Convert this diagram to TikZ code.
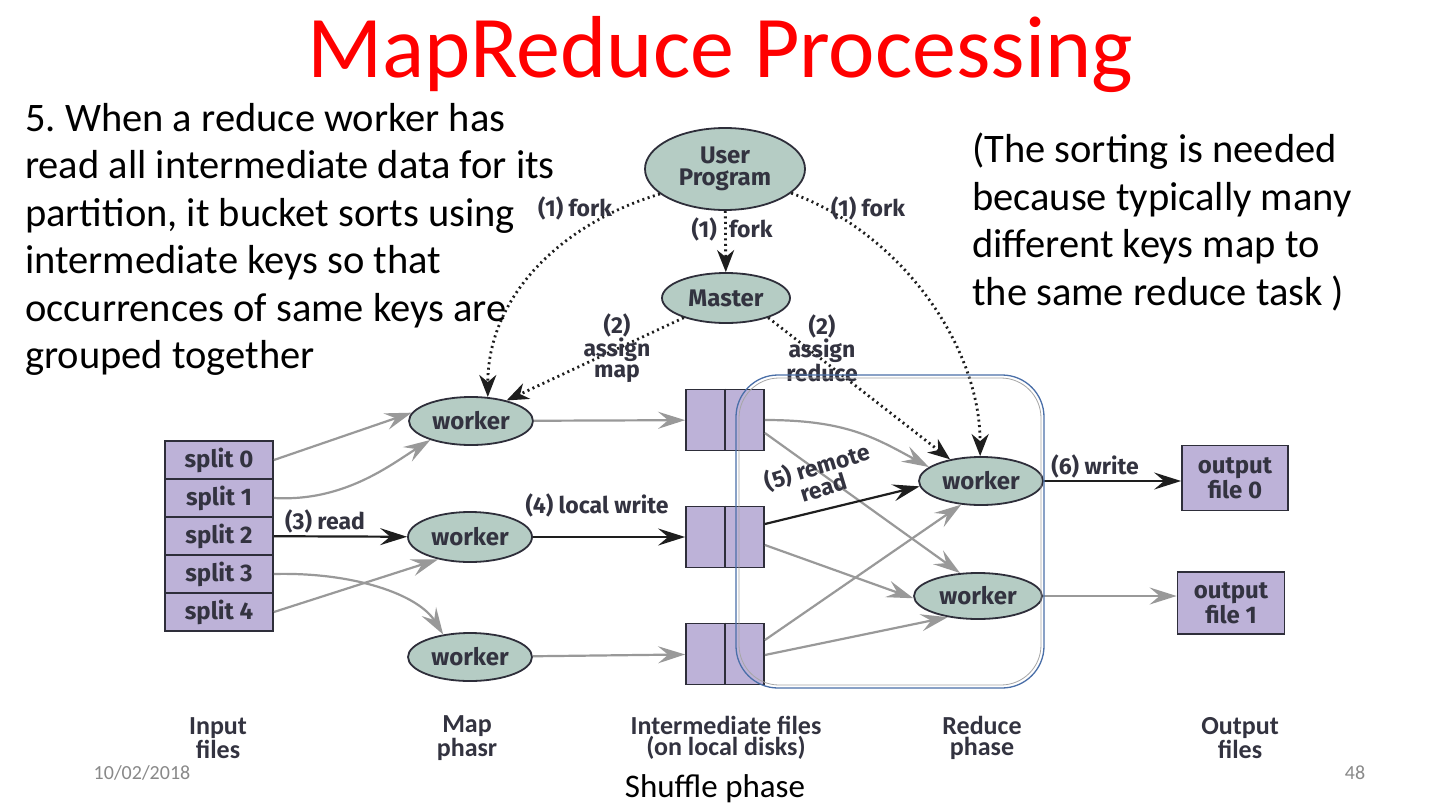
\documentclass[tikz,border=0pt]{standalone}
\usepackage{fontspec}
\setmainfont{Carlito}
\newfontfamily\diagfont{Fira Sans}
\usetikzlibrary{arrows.meta,positioning,shapes.geometric}

\definecolor{taskgreen}{HTML}{B5CCC4}
\definecolor{filepurple}{HTML}{BDB2D8}
\definecolor{edgedark}{HTML}{2E2E3A}
\definecolor{labeldark}{HTML}{333340}
\definecolor{flowgray}{HTML}{999999}
\definecolor{flowblack}{HTML}{1E1E1E}
\definecolor{frameblue}{HTML}{4A6FA8}
\definecolor{footgray}{HTML}{898989}

\frenchspacing
\begin{document}
\begin{tikzpicture}[x=1pt, y=-1pt,
        font=\diagfont\bfseries\fontsize{24}{22}\selectfont,
        % boxes and workers
        task/.style={
            ellipse,
            draw=edgedark,
            fill=taskgreen,
            line width=1.8pt,
            inner sep=0pt,
            text=labeldark,
            align=center
        },
        filebox/.style={
            rectangle,
            draw=edgedark,
            fill=filepurple,
            line width=1.8pt,
            inner sep=0pt,
            text=labeldark,
            align=center
        },
        % connectors
        flow/.style={
            draw=flowgray,
            line width=2.2pt,
            -{Stealth[length=27pt, width=17pt, inset=10pt]}
        },
        mainflow/.style={flow, draw=flowblack},
        ctrl/.style={
            draw=flowblack,
            line width=2.8pt,
            dash pattern=on 2pt off 3.5pt,
            -{Stealth[length=22pt, width=17pt, inset=7pt]}
        },
        steplabel/.style={
            text=labeldark,
            align=center,
            inner sep=0pt,
            font=\diagfont\bfseries\fontsize{23}{21}\selectfont
        },
        collabel/.style={
            text=labeldark,
            align=center,
            inner sep=0pt,
            font=\rmfamily\bfseries\fontsize{26}{21}\selectfont
        },
        note/.style={
            anchor=north west,
            align=left,
            inner sep=0pt,
            font=\rmfamily\mdseries\fontsize{40.5}{47.5}\selectfont
        }
    ]
    \useasboundingbox[fill=white] (0,0) rectangle (1440,811);

    % --- TITLE AND NOTES ---
    \node[anchor=base, text=red, inner sep=0pt,
          font=\rmfamily\mdseries\fontsize{88}{88}\selectfont] (title) at (720,77) {MapReduce Processing};
    \node[note] (noteleft) at (25,103) {5. When a reduce worker has\\read all intermediate data for its\\partition, it bucket sorts using\\intermediate keys so that\\occurrences of same keys are\\grouped together};
    \node[note] (noteright) at (972,133) {(The sorting is needed\\because typically many\\different keys map to\\the same reduce task )};

    % --- USER PROGRAM AND MASTER ---
    \node[task, minimum width=160pt, minimum height=82pt] (UP) at (725,169) {User\\Program};
    \node[task, minimum width=128pt, minimum height=50pt] (M) at (726,298) {Master};

    % --- INPUT SPLITS ---
    \foreach \i in {0,...,4} {
        \node[filebox, minimum width=108pt, minimum height=38pt] (s\i) at (219,460+38*\i) {split \i};
    }

    % --- MAP WORKERS ---
    \node[task, minimum width=124pt, minimum height=48pt] (w1) at (471,421) {worker};
    \node[task, minimum width=124pt, minimum height=50pt] (w2) at (470,537) {worker};
    \node[task, minimum width=124pt, minimum height=48pt] (w3) at (470,657) {worker};

    % --- INTERMEDIATE FILES ---
    \foreach \f/\y in {f1/420, f2/537, f3/654} {
        \node[filebox, minimum width=78pt, minimum height=61pt] (\f) at (725,\y) {};
        \draw[edgedark, line width=1.8pt] (\f.north) -- (\f.south);
    }

    % --- REDUCE WORKERS ---
    \node[task, minimum width=124pt, minimum height=48pt] (R1) at (981,481) {worker};
    \node[task, minimum width=128pt, minimum height=46pt] (R2) at (978,596) {worker};

    % --- OUTPUT FILES ---
    \node[filebox, minimum width=106pt, minimum height=65pt] (out0) at (1235,478) {output\\file 0};
    \node[filebox, minimum width=107pt, minimum height=62pt] (out1) at (1231,603) {output\\file 1};

    % --- CONTROL (DOTTED) ---
    \draw[ctrl] (UP) -- (M);
    \draw[ctrl] (UP.201) .. controls +(-100,30) and +(0,-100) .. (w1.55);
    \draw[ctrl] (UP.340) .. controls +(110,40) and +(0,-110) .. (R1.92);
    \draw[ctrl] (M.205) -- (w1.30);
    \draw[ctrl] (M.335) -- (R1.145);

    % --- DATA FLOW ---
    \draw[flow] (s0.east) -- (w1.172);
    \draw[flow] (s1.east) .. controls +(70,4) and +(-40,25) .. (w1.205);
    \draw[mainflow] (s2) -- (w2);
    \draw[flow] (s3.east) .. controls +(80,-2) and +(-25,-40) .. (w3.140);
    \draw[flow] (s4.east) -- (w2.215);

    \draw[flow] (w1) -- (f1);
    \draw[mainflow] (w2) -- (f2);
    \draw[flow] (w3) -- (f3);

    \draw[flow] (f1.east) .. controls +(80,0) and +(-55,-30) .. (R1.165);
    \draw[flow] ([yshift=-13pt]f1.east) -- (R2.128);
    \draw[mainflow] ([yshift=13pt]f2.east) -- (R1.185);
    \draw[flow] ([yshift=-8pt]f2.east) -- (R2.182);
    \draw[flow] ([yshift=14pt]f3.east) -- (R1.230);
    \draw[flow] ([yshift=-1pt]f3.east) -- (R2.215);

    \draw[mainflow] (R1.east) -- (R1.east -| out0.west);
    \draw[flow] (R2.east) -- (R2.east -| out1.west);

    % --- STEP LABELS ---
    \node[steplabel] (forkL) at (575,208) {(1) fork};
    \node[steplabel] (forkR) at (868,208) {(1) fork};
    \node[steplabel, anchor=east] (forkA) at (717,229) {(1)};
    \node[steplabel, anchor=west] (forkB) at (729,229) {fork};
    \node[steplabel] (assignmap) at (617,348) {(2)\\assign\\map};
    \node[steplabel] (assignred) at (822,348) {(2)\\assign\\reduce};
    \node[steplabel] (readlbl) at (325,521) {(3) read};
    \node[steplabel] (writelocal) at (597,505) {(4) local write};
    \node[steplabel, rotate=17] (remotelbl) at (820,476) {(5) remote\\read};
    \node[steplabel] (writelbl) at (1095,466) {(6) write};

    % --- SHUFFLE FRAME ---
    \draw[gray!70, line width=0.8pt, rounded corners=40pt] (739,378) rectangle (1041,685);
    \draw[frameblue, line width=1.3pt, rounded corners=42pt] (736,375) rectangle (1044,688);

    % --- COLUMN LABELS ---
    \node[collabel] (colinput) at (218,738) {Input\\files};
    \node[collabel] (colmap) at (467,738) {Map\\phasr};
    \node[collabel] (colinter) at (726,738) {Intermediate files\\(on local disks)};
    \node[collabel] (colreduce) at (982,738) {Reduce\\phase};
    \node[collabel] (coloutput) at (1240,738) {Output\\files};

    % --- FOOTER ---
    \node[text=footgray, font=\rmfamily\mdseries\fontsize{20}{20}\selectfont] (date) at (142,773) {10/02/2018};
    \node[text=footgray, font=\rmfamily\mdseries\fontsize{20}{20}\selectfont] (pagenum) at (1355,773) {48};
    \node[text=black, font=\rmfamily\mdseries\fontsize{33}{33}\selectfont] (shuffle) at (715,789) {Shuffle phase};
\end{tikzpicture}
\end{document}
